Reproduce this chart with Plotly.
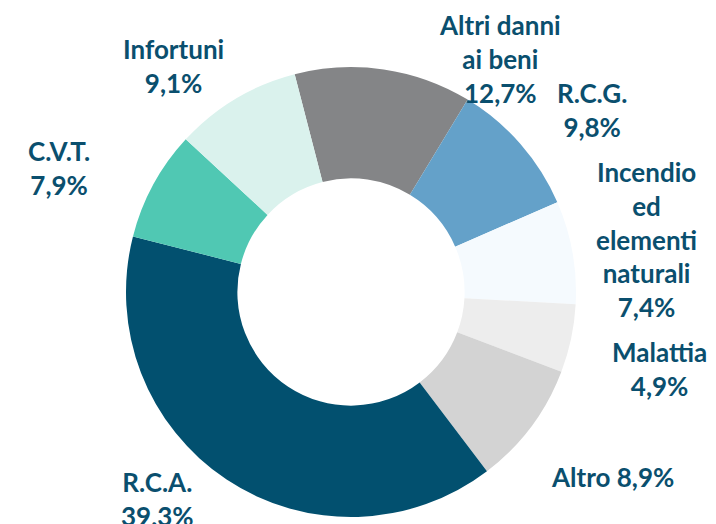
import plotly.graph_objects as go

categories = ["Altri danni<br>ai beni", "R.C.G.", "Incendio<br>ed<br>elementi<br>naturali",
              "Malattia", "Altro", "R.C.A.", "C.V.T.", "Infortuni"]
values = [12.7, 9.8, 7.4, 4.9, 8.9, 39.3, 7.9, 9.1]
colors = ["#848587", "#64A1C9", "#F5FAFE", "#EDEDED", "#D3D3D3", "#02506F", "#50C8B3", "#DAF2ED"]
# label block centres in window pixels (x, y from top) and separator between name and value
label_pos = [(500, 59), (592, 110), (646, 239), (659, 369), (612, 477), (157, 499), (59, 168), (173, 66)]
label_sep = ["<br>", "<br>", "<br>", "<br>", " ", "<br>", "<br>", "<br>"]

W, H = 716, 524
OFF = 8  # default page body margin in the browser
cx, cy, R = 351 - OFF, 292 - OFF, 225

fig = go.Figure(go.Pie(
    labels=[c.replace("<br>", " ") for c in categories],
    values=values,
    sort=False,
    direction="clockwise",
    rotation=-14.5,
    hole=0.505,
    marker=dict(colors=colors, line=dict(width=0)),
    textinfo="none",
    hoverinfo="label+percent",
    showlegend=False,
    domain=dict(x=[(cx - R) / W, (cx + R) / W], y=[(H - cy - R) / H, (H - cy + R) / H]),
))

TXT = "#0A4F6E"
for cat, v, (px, py), sep in zip(categories, values, label_pos, label_sep):
    fig.add_annotation(
        text=f"{cat}{sep}" + f"{v:.1f}".replace(".", ",") + "%",
        x=(px - OFF) / W, y=1 - (py - OFF) / H, xref="paper", yref="paper",
        xanchor="center", yanchor="middle", align="center", showarrow=False,
        font=dict(family="Lato", size=26, color=TXT, weight="bold"),
    )

fig.update_layout(
    width=W, height=H,
    margin=dict(l=0, r=0, t=0, b=0),
    paper_bgcolor="white", plot_bgcolor="white",
)
fig.write_html("out.html")
